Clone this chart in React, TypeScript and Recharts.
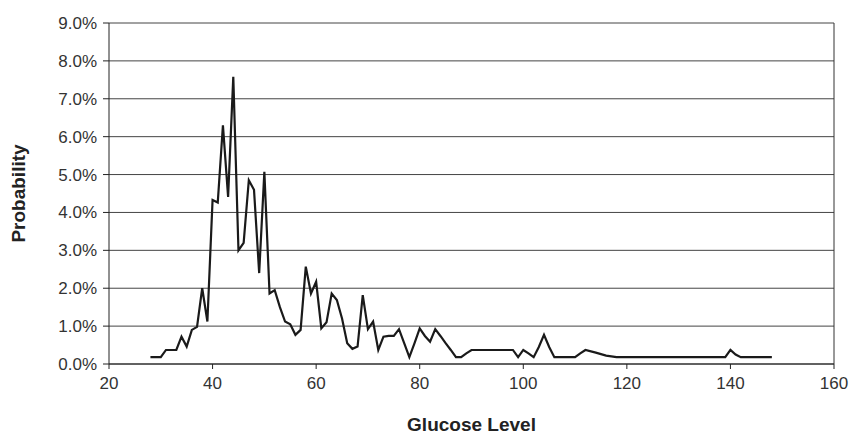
import React from 'react';
import { LineChart, Line, XAxis, YAxis, CartesianGrid, ReferenceLine } from 'recharts';

// glucose level (mg/dL) and probability (%)
const glucose = [
  28, 29, 30, 31, 32, 33, 34, 35, 36, 37, 38, 39, 40, 41, 42, 43, 44, 45, 46, 47,
  48, 49, 50, 51, 52, 53, 54, 55, 56, 57, 58, 59, 60, 61, 62, 63, 64, 65, 66, 67,
  68, 69, 70, 71, 72, 73, 74, 75, 76, 77, 78, 79, 80, 81, 82, 83, 84, 85, 86, 87,
  88, 89, 90, 98, 99, 100, 101, 102, 103, 104, 105, 106, 110, 111, 112, 114, 116, 118,
  139, 140, 141, 142, 148,
];
const probability = [
  0.18, 0.18, 0.18, 0.37, 0.37, 0.37, 0.72, 0.46, 0.9, 0.98, 2.0, 1.12, 4.33, 4.26, 6.3, 4.41, 7.58, 3.0, 3.2, 4.85,
  4.6, 2.4, 5.07, 1.86, 1.95, 1.5, 1.12, 1.05, 0.77, 0.9, 2.57, 1.86, 2.17, 0.94, 1.1, 1.86, 1.69, 1.2, 0.55, 0.4,
  0.46, 1.82, 0.92, 1.12, 0.37, 0.72, 0.74, 0.74, 0.92, 0.55, 0.18, 0.55, 0.94, 0.74, 0.59, 0.92, 0.74, 0.55, 0.37, 0.18,
  0.18, 0.28, 0.37, 0.37, 0.18, 0.37, 0.28, 0.18, 0.45, 0.77, 0.45, 0.18, 0.18, 0.28, 0.37, 0.3, 0.22, 0.18,
  0.18, 0.37, 0.25, 0.18, 0.18,
];
const xTicks = [20, 40, 60, 80, 100, 120, 140, 160];
const yTicks = [0, 1, 2, 3, 4, 5, 6, 7, 8, 9];

const data = glucose.map((g, i) => ({ g, p: probability[i] }));

const font = '"Liberation Sans", Arial, sans-serif';

export default function App() {
  return (
    <div style={{ position: 'absolute', left: 0, top: 0, width: 852, height: 435, background: '#fff', fontFamily: font }}>
      <LineChart width={852} height={435} data={data} margin={{ top: 23, right: 18, left: 0, bottom: 0 }}>
        <CartesianGrid vertical={false} stroke="#444" strokeWidth={1} />
        <XAxis
          dataKey="g"
          type="number"
          domain={[20, 160]}
          ticks={xTicks}
          height={71}
          stroke="#222"
          tickSize={5}
          tick={{ fill: '#333', fontSize: 17, fontFamily: font }}
          tickMargin={8}
          label={{ value: 'Glucose Level', position: 'insideBottom', offset: 4, fill: '#222', fontSize: 19, fontWeight: 'bold', fontFamily: font }}
        />
        <YAxis
          type="number"
          domain={[0, 9]}
          ticks={yTicks}
          width={109}
          stroke="#222"
          tickSize={6}
          tickMargin={6}
          tickFormatter={(v: number) => `${v.toFixed(1)}%`}
          tick={{ fill: '#333', fontSize: 17, fontFamily: font }}
          label={{ value: 'Probability', angle: -90, position: 'insideLeft', offset: 18, fill: '#222', fontSize: 19, fontWeight: 'bold', fontFamily: font, style: { textAnchor: 'middle' } }}
        />
        <ReferenceLine x={160} stroke="#333" strokeWidth={1} />
        <Line
          type="linear"
          dataKey="p"
          stroke="#1a1a1a"
          strokeWidth={2.2}
          dot={false}
          isAnimationActive={false}
        />
      </LineChart>
    </div>
  );
}
